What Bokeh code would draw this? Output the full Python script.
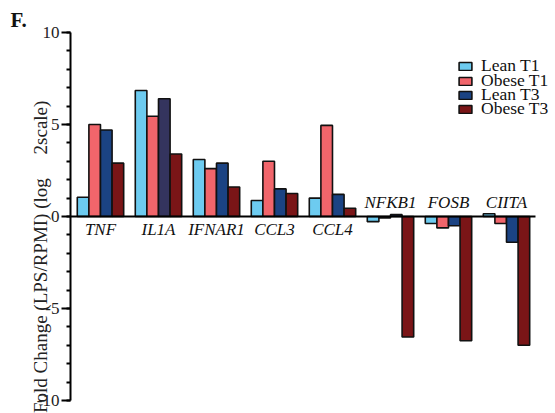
import numpy as np
from bokeh.plotting import figure
from bokeh.models import (ColumnDataSource, FixedTicker, Legend, LegendItem,
                          Range1d, CustomJSTickFormatter)
from bokeh.core.properties import value
from bokeh.embed import file_html
from bokeh.resources import INLINE

genes = ["TNF", "IL1A", "IFNAR1", "CCL3", "CCL4", "NFKB1", "FOSB", "CIITA"]
series = ["Lean T1", "Obese T1", "Lean T3", "Obese T3"]
lean_t1 = [1.05, 6.85, 3.1, 0.87, 1.0, -0.28, -0.38, 0.15]
obese_t1 = [5.0, 5.45, 2.6, 3.0, 4.95, -0.08, -0.62, -0.38]
lean_t3 = [4.7, 6.4, 2.9, 1.5, 1.2, 0.1, -0.5, -1.4]
obese_t3 = [2.9, 3.4, 1.6, 1.25, 0.45, -6.55, -6.75, -7.0]
values = [lean_t1, obese_t1, lean_t3, obese_t3]
colors = ["#6dcbf0", "#f1656b", "#1b4383", "#7a1517"]
lean_t3_il1a_color = "#34345e"
y_ticks = [-10, -5, 0, 5, 10]

SERIF = "Liberation Serif"
NB = "\u00a0"

p = figure(width=555, height=413, output_backend="svg", toolbar_location=None,
           x_range=Range1d(-0.517, 7.845), y_range=Range1d(-10, 10),
           min_border_left=70, min_border_right=0, min_border_top=32,
           min_border_bottom=13, title="F.")
p.outline_line_color = None
p.xgrid.visible = False
p.ygrid.visible = False
p.xaxis.visible = False

p.title.align = "left"
p.title.offset = -60
p.title.standoff = 2
p.title.text_font = SERIF
p.title.text_font_size = "21px"
p.title.text_font_style = "bold"
p.title.text_color = "#111111"

ya = p.yaxis[0]
ya.ticker = FixedTicker(ticks=y_ticks, minor_ticks=list(range(-10, 11)))
ya.formatter = CustomJSTickFormatter(code="return tick.toString();")
ya.axis_line_width = 2
ya.axis_line_color = "black"
ya.major_tick_line_width = 2
ya.minor_tick_line_width = 2
ya.major_tick_out = 9
ya.major_tick_in = 0
ya.minor_tick_out = 4
ya.minor_tick_in = 0
ya.major_label_standoff = 2
ya.major_label_text_font = SERIF
ya.major_label_text_font_size = "17px"
ya.major_label_text_color = "#222222"
ya.axis_label = "Fold Change (LPS/RPMI) (log " + NB * 4 + "2scale)" + NB * 17
ya.axis_label_text_font = SERIF
ya.axis_label_text_font_style = "normal"
ya.axis_label_text_font_size = "19px"
ya.axis_label_text_color = "#222222"
ya.axis_label_standoff = -17

idx = np.arange(len(genes))
offsets = [-0.3, -0.1, 0.1, 0.3]
renderers = []
for k, (vals, col) in enumerate(zip(values, colors)):
    fills = [col] * len(genes)
    if k == 2:
        fills[1] = lean_t3_il1a_color
    src = ColumnDataSource(dict(x=idx + offsets[k], top=vals, fill=fills))
    r = p.vbar(x="x", top="top", bottom=0, width=0.2, source=src,
               fill_color="fill", line_color="#111111", line_width=1.6)
    renderers.append(r)

# baseline at zero
p.segment(x0=[-0.517], y0=[0], x1=[7.5], y1=[0], line_color="black", line_width=2)

# gene labels
sums = [sum(v[i] for v in values) for i in range(len(genes))]
below = [i for i in range(len(genes)) if sums[i] >= 0]
above = [i for i in range(len(genes)) if sums[i] < 0]
src_b = ColumnDataSource(dict(x=idx[below], y=[0] * len(below), t=[genes[i] for i in below]))
src_a = ColumnDataSource(dict(x=idx[above], y=[0] * len(above), t=[genes[i] for i in above]))
p.text(x="x", y="y", text="t", source=src_b, text_font=value(SERIF),
       text_font_style="italic", text_font_size="17px", text_align="center",
       text_baseline="top", y_offset=3, text_color="#111111")
p.text(x="x", y="y", text="t", source=src_a, text_font=value(SERIF),
       text_font_style="italic", text_font_size="17px", text_align="center",
       text_baseline="bottom", y_offset=-5, text_color="#111111")

# legend: one compact row per series
legend_rows_y = [324, 309, 295, 281]
for s, r, ly in zip(series, renderers, legend_rows_y):
    legend = Legend(items=[LegendItem(label=s, renderers=[r])], location=(387, ly))
    legend.label_text_font = SERIF
    legend.label_text_font_size = "17.5px"
    legend.label_text_color = "#111111"
    legend.glyph_width = 16
    legend.glyph_height = 10
    legend.label_height = 14
    legend.label_standoff = 8
    legend.padding = 2
    legend.margin = 0
    legend.border_line_color = None
    legend.background_fill_alpha = 0
    p.add_layout(legend)

open("out.html", "w").write(file_html(p, INLINE))
